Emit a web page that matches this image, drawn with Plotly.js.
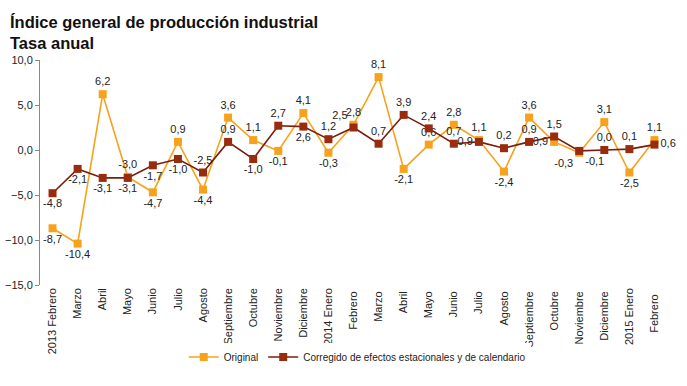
<!DOCTYPE html>
<html>
<head>
<meta charset="utf-8">
<script src="https://cdn.plot.ly/plotly-3.0.1.min.js"></script>
<style>html,body{margin:0;padding:0;background:#fff;}#chart{width:687px;height:386px;}</style>
</head>
<body>
<div id="chart"></div>
<script>
const categories = ["2013 Febrero","Marzo","Abril","Mayo","Junio","Julio","Agosto","Septiembre","Octubre","Noviembre","Diciembre","2014 Enero","Febrero ","Marzo ","Abril ","Mayo ","Junio ","Julio ","Agosto ","Septiembre ","Octubre ","Noviembre ","Diciembre ","2015 Enero","Febrero  "];
const original = [-8.7,-10.4,6.2,-3.0,-4.7,0.9,-4.4,3.6,1.1,-0.1,4.1,-0.3,2.8,8.1,-2.1,0.6,2.8,1.1,-2.4,3.6,0.9,-0.3,3.1,-2.5,1.1];
const corregido = [-4.8,-2.1,-3.1,-3.1,-1.7,-1.0,-2.5,0.9,-1.0,2.7,2.6,1.2,2.5,0.7,3.9,2.4,0.7,0.9,0.2,0.9,1.5,-0.1,0.0,0.1,0.6];
const seriesNames = ["Original","Corregido de efectos estacionales y de calendario"];

const origPos = ["bottom center","bottom center","top center","top center","bottom center","top center","bottom center","top center","top center","bottom center","top center","bottom center","top center","top center","bottom center","top center","top center","top center","bottom center","top center","middle left","bottom left","top center","bottom center","top center"];
const corrPos = ["bottom center","bottom center","bottom center","bottom center","bottom center","bottom center","top center","top center","bottom center","top center","bottom center","top center","top left","top center","top center","top center","top center","middle left","top center","top center","top center","bottom right","top center","top center","middle right"];

const fmt = v => v.toFixed(1).replace('.', ',');
const labelFont = {family: 'Liberation Sans, Arial, sans-serif', size: 11, color: '#222'};

const traces = [
  {x: categories, y: original, name: seriesNames[0], type: 'scatter', mode: 'lines+markers+text',
   line: {color: '#F7A21C', width: 1.6}, marker: {symbol: 'square', size: 8, color: '#F7A21C'},
   text: original.map(fmt), textposition: origPos, textfont: labelFont, cliponaxis: false},
  {x: categories, y: corregido, name: seriesNames[1], type: 'scatter', mode: 'lines+markers+text',
   line: {color: '#7A1C0C', width: 1.6}, marker: {symbol: 'square', size: 8, color: '#982C0C'},
   text: corregido.map(fmt), textposition: corrPos, textfont: labelFont, cliponaxis: false}
];

const layout = {
  width: 687, height: 386,
  margin: {l: 40, r: 20, t: 60, b: 101, autoexpand: false},
  paper_bgcolor: '#fff', plot_bgcolor: '#fff',
  separators: ',.',
  font: {family: 'Liberation Sans, Arial, sans-serif', size: 11, color: '#222'},
  showlegend: true,
  legend: {orientation: 'h', x: 0.52, xanchor: 'center', xref: 'container', y: 0.075, yanchor: 'middle', yref: 'container',
           font: {size: 10, color: '#222'}, itemwidth: 30, traceorder: 'normal'},
  xaxis: {type: 'category', range: [-0.5, 24.5], showline: false, showgrid: false, zeroline: false, automargin: false,
          ticks: '', tickangle: -90, tickfont: {size: 11, color: '#222'}, fixedrange: true},
  xaxis2: {overlaying: 'x', anchor: 'free', position: 0.6, type: 'linear', range: [-0.5, 24.5],
           tick0: 0.5, dtick: 1, showticklabels: false, ticks: 'outside', ticklen: 4,
           tickcolor: '#888', showline: true, linecolor: '#888', linewidth: 1, showgrid: false, zeroline: false},
  yaxis: {range: [-15, 10], dtick: 5, tickformat: '.1f', showgrid: false, zeroline: false, automargin: false,
          showline: true, linecolor: '#888', ticks: 'outside', ticklen: 4, tickcolor: '#888',
          tickfont: {size: 11, color: '#222'}},
  annotations: [
    {text: '<b>Índice general de producción industrial<br>Tasa anual</b>', xref: 'paper', yref: 'paper',
     x: 0, xanchor: 'left', xshift: -32, y: 1, yanchor: 'bottom', yshift: 6, showarrow: false, align: 'left',
     font: {family: 'Liberation Sans, Arial, sans-serif', size: 16.5, color: '#111'}}
  ]
};

Plotly.newPlot('chart', traces, layout, {displayModeBar: false, staticPlot: true});
</script>
</body>
</html>
